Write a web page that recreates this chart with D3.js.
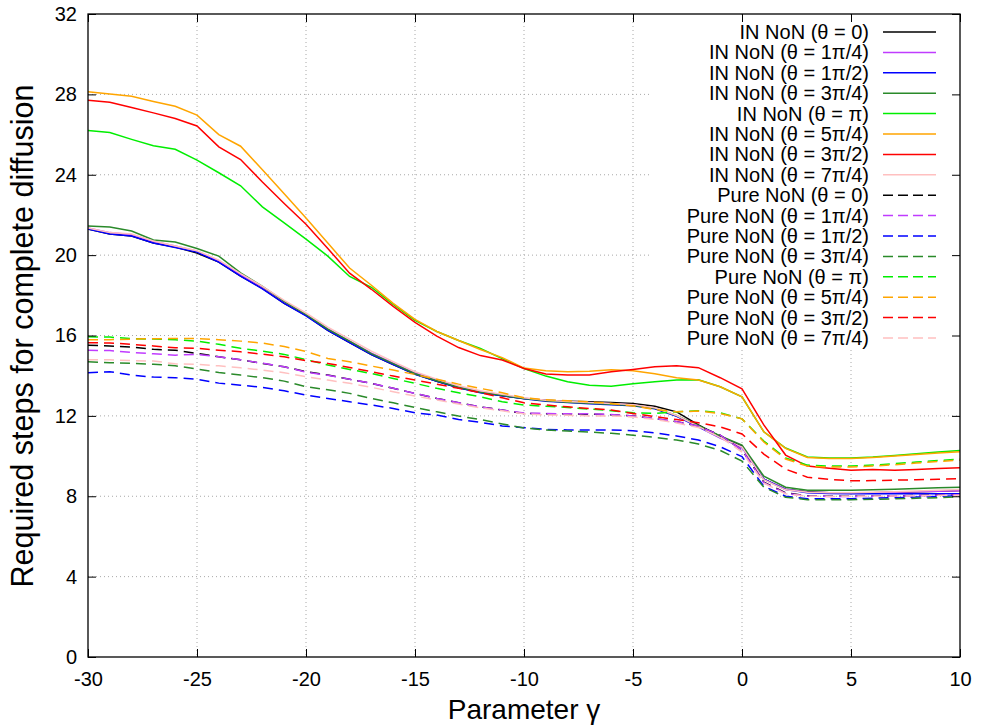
<!DOCTYPE html>
<html>
<head>
<meta charset="utf-8">
<script src="https://cdn.jsdelivr.net/npm/d3@7"></script>
<style>
    body { margin: 0; background: #fff; }
    text { font-family: "Liberation Sans", Arial, sans-serif; fill: #000; }
</style>
</head>
<body>
<div id="chart-area"></div>
<script>

// x values (parameter gamma)
const gamma = [-30,-29,-28,-27,-26,-25,-24,-23,-22,-21,-20,-19,-18,-17,-16,-15,-14,-13,-12,-11,
    -10,-9,-8,-7,-6,-5,-4,-3,-2,-1,0,1,2,3,4,5,6,7,8,9,10];

const xTicks = [-30,-25,-20,-15,-10,-5,0,5,10];
const yTicks = [0,4,8,12,16,20,24,28,32];

// IN NoN
const inTheta0 = [21.3,21.05,20.95,20.6,20.4,20.1,19.65,18.95,18.35,17.6,17.0,16.25,15.65,15.05,14.55,14.08,13.72,13.4,13.17,13.0,
    12.86,12.78,12.73,12.7,12.67,12.62,12.48,12.2,11.55,10.98,10.5,8.85,8.35,8.22,8.18,8.17,8.18,8.2,8.22,8.25,8.28];
const inTheta1q4 = [21.35,21.12,21.02,20.68,20.45,20.2,19.72,19.02,18.4,17.67,17.05,16.33,15.72,15.12,14.62,14.13,13.77,13.45,13.2,13.03,
    12.88,12.77,12.7,12.65,12.6,12.54,12.38,12.0,11.45,10.9,10.42,8.85,8.35,8.2,8.17,8.15,8.17,8.2,8.22,8.25,8.27];
const inTheta1q2 = [21.3,21.05,20.95,20.6,20.38,20.15,19.65,18.95,18.32,17.6,16.98,16.25,15.65,15.05,14.55,14.07,13.72,13.4,13.15,13.0,
    12.85,12.73,12.66,12.6,12.55,12.5,12.35,11.98,11.45,10.92,10.45,8.85,8.33,8.18,8.14,8.12,8.12,8.12,8.12,8.12,8.12];
const inTheta3q4 = [21.45,21.4,21.2,20.75,20.65,20.33,19.95,19.12,18.45,17.7,17.05,16.32,15.72,15.1,14.6,14.1,13.75,13.42,13.18,13.02,
    12.86,12.75,12.68,12.63,12.58,12.52,12.38,12.02,11.52,11.0,10.55,9.0,8.45,8.3,8.3,8.3,8.32,8.35,8.38,8.42,8.45];
const inThetaPi = [26.2,26.1,25.76,25.44,25.27,24.73,24.1,23.45,22.4,21.6,20.8,19.95,18.94,18.4,17.55,16.75,16.2,15.75,15.35,14.85,
    14.36,13.98,13.7,13.53,13.48,13.6,13.7,13.78,13.8,13.45,12.95,11.21,10.4,9.95,9.9,9.9,9.95,10.03,10.12,10.2,10.28];
const inTheta5q4 = [28.13,28.02,27.91,27.65,27.41,26.97,26.0,25.42,24.25,23.05,21.85,20.6,19.36,18.5,17.6,16.8,16.2,15.75,15.3,14.9,
    14.38,14.25,14.2,14.22,14.3,14.24,14.1,13.9,13.78,13.45,12.95,11.21,10.38,9.93,9.88,9.88,9.93,10.0,10.08,10.15,10.22];
const inTheta3q2 = [27.71,27.61,27.35,27.08,26.8,26.43,25.39,24.76,23.64,22.57,21.54,20.33,19.1,18.3,17.45,16.65,15.97,15.4,15.0,14.78,
    14.36,14.08,14.03,14.03,14.2,14.31,14.44,14.5,14.4,13.9,13.35,11.55,10.05,9.5,9.39,9.3,9.33,9.3,9.33,9.38,9.42];
const inTheta7q4 = [21.35,21.12,21.05,20.7,20.45,20.22,19.75,19.08,18.45,17.75,17.12,16.42,15.82,15.22,14.7,14.2,13.83,13.5,13.25,13.07,
    12.9,12.78,12.72,12.67,12.62,12.56,12.4,12.02,11.48,10.92,10.45,8.82,8.32,8.2,8.18,8.17,8.2,8.23,8.26,8.3,8.33];

// Pure NoN
const pureTheta0 = [15.52,15.48,15.42,15.31,15.27,15.11,14.94,14.79,14.61,14.44,14.2,14.03,13.82,13.62,13.37,13.12,12.87,12.65,12.45,12.29,
    12.12,12.1,12.1,12.08,12.06,12.0,11.87,11.71,11.49,11.04,10.3,8.7,8.17,8.02,8.0,8.0,8.0,8.02,8.04,8.06,8.08];
const pureTheta1q4 = [15.26,15.25,15.16,15.09,15.02,15.06,14.94,14.79,14.62,14.44,14.18,14.02,13.82,13.62,13.37,13.12,12.87,12.65,12.45,12.29,
    12.14,12.12,12.1,12.1,12.07,11.99,11.87,11.71,11.49,11.04,10.3,8.68,8.15,8.01,7.99,7.99,8.0,8.01,8.03,8.05,8.07];
const pureTheta1q2 = [14.15,14.2,14.03,13.93,13.9,13.82,13.63,13.53,13.42,13.25,13.03,12.87,12.7,12.54,12.37,12.15,12.04,11.82,11.68,11.5,
    11.41,11.33,11.3,11.3,11.3,11.26,11.16,11.0,10.8,10.46,9.97,8.5,8.0,7.88,7.87,7.88,7.9,7.93,7.96,7.99,8.02];
const pureTheta3q4 = [14.69,14.65,14.61,14.57,14.49,14.33,14.16,14.03,13.9,13.73,13.45,13.3,13.12,12.87,12.65,12.42,12.2,11.99,11.82,11.6,
    11.4,11.3,11.25,11.2,11.13,11.04,10.93,10.8,10.6,10.28,9.75,8.45,7.95,7.83,7.82,7.83,7.85,7.87,7.9,7.93,7.97];
const pureThetaPi = [15.94,15.92,15.85,15.82,15.79,15.72,15.56,15.36,15.22,15.06,14.8,14.53,14.31,14.11,13.86,13.62,13.37,13.15,12.95,12.7,
    12.54,12.48,12.42,12.34,12.26,12.15,12.12,12.2,12.26,12.15,11.85,10.75,9.9,9.55,9.5,9.5,9.55,9.62,9.7,9.78,9.85];
const pureTheta5q4 = [15.79,15.79,15.82,15.84,15.85,15.85,15.79,15.72,15.62,15.45,15.2,14.86,14.69,14.48,14.28,14.06,13.82,13.58,13.37,13.15,
    12.9,12.8,12.75,12.7,12.62,12.49,12.32,12.2,12.24,12.12,11.85,10.7,9.85,9.5,9.45,9.45,9.5,9.57,9.65,9.73,9.8];
const pureTheta3q2 = [15.64,15.63,15.56,15.48,15.39,15.36,15.27,15.19,15.07,14.94,14.75,14.61,14.41,14.2,13.98,13.78,13.58,13.37,13.15,12.9,
    12.65,12.54,12.45,12.37,12.29,12.12,11.96,11.82,11.66,11.45,11.1,10.1,9.35,8.95,8.84,8.77,8.78,8.8,8.82,8.85,8.87];
const pureTheta7q4 = [14.79,14.79,14.75,14.73,14.59,14.56,14.49,14.39,14.28,14.15,13.95,13.78,13.62,13.42,13.2,12.99,12.79,12.59,12.4,12.25,
    12.1,12.05,12.03,12.0,12.0,11.95,11.82,11.65,11.42,10.95,10.2,8.65,8.12,8.0,7.99,8.0,8.0,8.01,8.02,8.04,8.05];

const seriesNames = [
    "IN NoN (θ = 0)", "IN NoN (θ = 1π/4)", "IN NoN (θ = 1π/2)", "IN NoN (θ = 3π/4)",
    "IN NoN (θ = π)", "IN NoN (θ = 5π/4)", "IN NoN (θ = 3π/2)", "IN NoN (θ = 7π/4)",
    "Pure NoN (θ = 0)", "Pure NoN (θ = 1π/4)", "Pure NoN (θ = 1π/2)", "Pure NoN (θ = 3π/4)",
    "Pure NoN (θ = π)", "Pure NoN (θ = 5π/4)", "Pure NoN (θ = 3π/2)", "Pure NoN (θ = 7π/4)"
];
const seriesValues = [
    inTheta0, inTheta1q4, inTheta1q2, inTheta3q4, inThetaPi, inTheta5q4, inTheta3q2, inTheta7q4,
    pureTheta0, pureTheta1q4, pureTheta1q2, pureTheta3q4, pureThetaPi, pureTheta5q4, pureTheta3q2, pureTheta7q4
];
const colors = ["#000000", "#c03cff", "#0000ff", "#2a8a2a", "#00ee00", "#ffa500", "#ff0000", "#ffc0c0"];


class LineChart {

    constructor(parentElement) {
        this.parentElement = parentElement;
        this.displayData = seriesNames.map((name, i) => ({
            name: name,
            color: colors[i % 8],
            dashed: i >= 8,
            values: gamma.map((g, j) => ({x: g, y: seriesValues[i][j]}))
        }));

        this.initVis();
    }

    initVis() {
        let vis = this;

        vis.margin = {top: 14, right: 21, bottom: 71, left: 88};
        vis.width = 981 - vis.margin.left - vis.margin.right;
        vis.height = 728 - vis.margin.top - vis.margin.bottom;

        vis.svg = d3.select('#' + vis.parentElement)
            .append('svg')
            .attr("width", 981)
            .attr("height", 728)
            .append("g")
            .attr("transform", "translate(" + vis.margin.left + "," + vis.margin.top + ")");

        vis.x = d3.scaleLinear().domain([-30, 10]).range([0, vis.width]);
        vis.y = d3.scaleLinear().domain([0, 32]).range([vis.height, 0]);

        // dotted grid (inner ticks only)
        vis.svg.append("g").attr("class", "grid")
            .selectAll("line.gx")
            .data(xTicks.slice(1, -1))
            .enter().append("line")
            .attr("x1", d => vis.x(d)).attr("x2", d => vis.x(d))
            .attr("y1", 0).attr("y2", vis.height);
        vis.svg.select(".grid")
            .selectAll("line.gy")
            .data(yTicks.slice(1, -1))
            .enter().append("line")
            .attr("y1", d => vis.y(d)).attr("y2", d => vis.y(d))
            .attr("x1", 0).attr("x2", vis.width);
        vis.svg.selectAll(".grid line")
            .attr("stroke", "#a8a8a8")
            .attr("stroke-width", 1)
            .attr("stroke-dasharray", "1,3");

        vis.line = d3.line()
            .x(d => vis.x(d.x))
            .y(d => vis.y(d.y));

        vis.updateVis();
    }

    updateVis() {
        let vis = this;

        vis.svg.selectAll(".series")
            .data(vis.displayData)
            .enter().append("path")
            .attr("class", "series")
            .attr("d", d => vis.line(d.values))
            .attr("fill", "none")
            .attr("stroke", d => d.color)
            .attr("stroke-width", 1.5)
            .attr("stroke-dasharray", d => d.dashed ? "10,6" : null);

        vis.drawLegend();
        vis.drawAxes();
    }

    drawLegend() {
        let vis = this;

        // opaque key box hides the grid behind it
        vis.svg.append("rect")
            .attr("x", 652 - vis.margin.left)
            .attr("y", 1)
            .attr("width", vis.width - (652 - vis.margin.left) - 1)
            .attr("height", 348 - vis.margin.top)
            .attr("fill", "#fff");

        let rows = vis.svg.selectAll(".legend")
            .data(vis.displayData)
            .enter().append("g")
            .attr("class", "legend")
            .attr("transform", (d, i) => "translate(0," + (32 - vis.margin.top + i * 20.4) + ")");

        rows.append("text")
            .attr("x", 869 - vis.margin.left)
            .attr("dy", "0.35em")
            .attr("text-anchor", "end")
            .style("font-size", "20px")
            .text(d => d.name);

        rows.append("line")
            .attr("x1", 883 - vis.margin.left)
            .attr("x2", 936 - vis.margin.left)
            .attr("stroke", d => d.color)
            .attr("stroke-width", 1.5)
            .attr("stroke-dasharray", d => d.dashed ? "10,5" : null);
    }

    drawAxes() {
        let vis = this;

        // gnuplot style labels: plain hyphen for negatives
        let fmt = d => String(d);

        vis.svg.append("g")
            .attr("class", "axis")
            .attr("transform", "translate(0," + vis.height + ")")
            .call(d3.axisBottom(vis.x).tickValues(xTicks).tickFormat(fmt).tickSizeInner(-8).tickSizeOuter(0).tickPadding(15));
        vis.svg.append("g")
            .attr("class", "axis")
            .call(d3.axisTop(vis.x).tickValues(xTicks).tickSizeInner(-8).tickSizeOuter(0).tickFormat(""));
        vis.svg.append("g")
            .attr("class", "axis")
            .call(d3.axisLeft(vis.y).tickValues(yTicks).tickFormat(fmt).tickSizeInner(-8).tickSizeOuter(0).tickPadding(11));
        vis.svg.append("g")
            .attr("class", "axis")
            .attr("transform", "translate(" + vis.width + ",0)")
            .call(d3.axisRight(vis.y).tickValues(yTicks).tickSizeInner(-8).tickSizeOuter(0).tickFormat(""));

        vis.svg.selectAll(".axis text")
            .style("font-size", "20px")
            .style("font-family", "'Liberation Sans', Arial, sans-serif");
        vis.svg.selectAll(".axis .domain").remove();
        vis.svg.selectAll(".axis line").attr("stroke", "#000");

        vis.svg.append("rect")
            .attr("width", vis.width)
            .attr("height", vis.height)
            .attr("fill", "none")
            .attr("stroke", "#000")
            .attr("stroke-width", 1.3);

        // axis titles
        vis.svg.append("text")
            .attr("transform", "translate(" + (33 - vis.margin.left) + "," + (336 - vis.margin.top) + ") rotate(-90)")
            .attr("text-anchor", "middle")
            .style("font-size", "30.5px")
            .text("Required steps for complete diffusion");

        vis.svg.append("text")
            .attr("x", vis.width / 2)
            .attr("y", 719 - vis.margin.top)
            .attr("text-anchor", "middle")
            .style("font-size", "28px")
            .text("Parameter γ");
    }
}

let chart = new LineChart("chart-area");

</script>
</body>
</html>
